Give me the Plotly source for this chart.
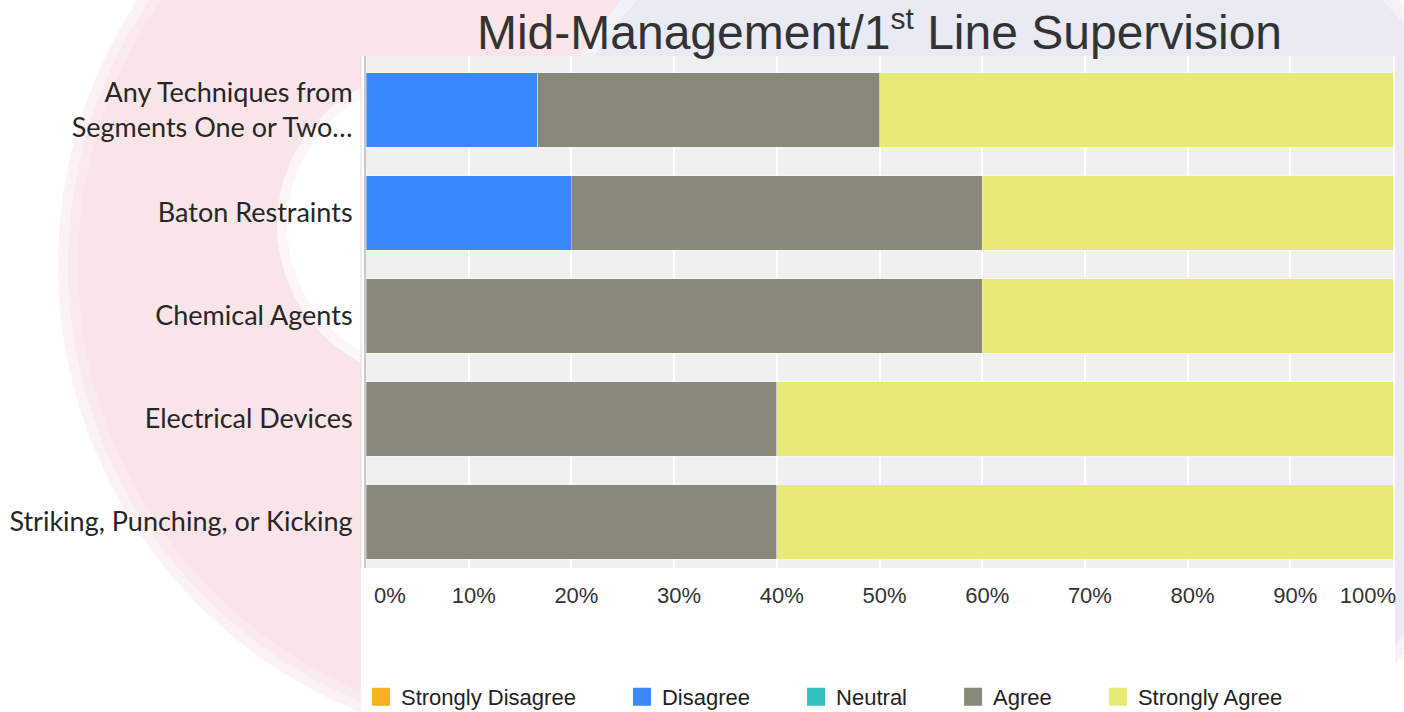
import plotly.graph_objects as go

# ---------------- data ----------------
categories = [
    "Any Techniques from<br>Segments One or Two…",
    "Baton Restraints",
    "Chemical Agents",
    "Electrical Devices",
    "Striking, Punching, or Kicking",
]
series_names = ["Strongly Disagree", "Disagree", "Neutral", "Agree", "Strongly Agree"]
strongly_disagree = [0, 0, 0, 0, 0]
disagree = [16.7, 20, 0, 0, 0]
neutral = [0, 0, 0, 0, 0]
agree = [33.3, 40, 60, 40, 40]
strongly_agree = [50, 40, 40, 60, 60]
tick_values = [0, 10, 20, 30, 40, 50, 60, 70, 80, 90, 100]
tick_labels = ["0%", "10%", "20%", "30%", "40%", "50%", "60%", "70%", "80%", "90%", "100%"]
title_main = "Mid-Management/1"
title_sup = "st"
title_rest = " Line Supervision"

series_values = [strongly_disagree, disagree, neutral, agree, strongly_agree]
series_colors = ["#F8B120", "#3A88FE", "#35BEBE", "#888978", "#E8EA76"]

# ---------------- layout geometry ----------------
W, H = 1404, 712
L, R, T, B = 366, 11, 56, 144
PW, PH = W - L - R, H - T - B


def px_x(p):
    return (p - L) / PW


def px_y(p):
    return (H - B - p) / PH


fig = go.Figure()

legend_axes = ["x2", "x3", "x", "x", "x"]
for name, vals, col, lx in zip(series_names, series_values, series_colors, legend_axes):
    fig.add_trace(go.Bar(
        y=categories, x=vals, orientation="h", name=name,
        marker=dict(color=col, line=dict(color="rgba(255,255,255,0.35)", width=1)),
        showlegend=False,
    ))
    # legend entry with a larger swatch (empty trace)
    fig.add_trace(go.Scatter(
        x=[None], y=[None], mode="markers", name=name + "\u00a0" * 6 + "\u2009",
        xaxis=lx, yaxis="y",
        marker=dict(symbol="square", size=16, color=col, line=dict(color=col, width=2)),
        showlegend=True,
    ))

# background decoration (slide background + chart panel)
shapes = []


def circle(cx, cy, r, color):
    return dict(type="circle", xref="paper", yref="paper", layer="below",
                x0=px_x(cx - r), x1=px_x(cx + r), y0=px_y(cy + r), y1=px_y(cy - r),
                fillcolor=color, line=dict(width=0))


shapes.append(circle(540, 265, 482, "#FCF2F3"))
shapes.append(circle(540, 265, 472, "#FAEAEC"))
shapes.append(circle(540, 265, 462, "#F9E5E7"))
shapes.append(circle(432, 225, 155, "#FDF6F7"))
shapes.append(circle(432, 225, 145, "#FFFFFF"))
shapes.append(circle(1010, 330, 510, "#F1F3F8"))
shapes.append(circle(1010, 330, 498, "#E8EBF3"))
shapes.append(dict(type="rect", xref="paper", yref="paper", layer="below",
                   x0=px_x(361), x1=px_x(1395), y0=px_y(712), y1=px_y(56),
                   fillcolor="#FFFFFF", line=dict(width=0)))
shapes.append(dict(type="line", xref="paper", yref="paper", layer="below",
                   x0=px_x(361), x1=px_x(361), y0=px_y(568), y1=px_y(56),
                   line=dict(color="#DDDDDD", width=1)))
shapes.append(dict(type="rect", xref="x domain", yref="y domain", layer="below",
                   x0=0, x1=1, y0=0, y1=1, fillcolor="#F0F0F0", line=dict(width=0)))

tick_font = dict(family="Liberation Sans, Arial", size=22, color="#333333")
common_x = dict(range=[0, 100], ticks="", zeroline=False, showline=False,
                ticklabelstandoff=12, tickfont=tick_font, automargin=False, fixedrange=True)

fig.update_layout(
    width=W, height=H,
    margin=dict(l=L, r=R, t=T, b=B, autoexpand=False),
    paper_bgcolor="#FFFFFF",
    plot_bgcolor="rgba(0,0,0,0)",
    barmode="stack",
    bargap=0.28,
    shapes=shapes,
    title=dict(text=title_main + "<sup><span style='font-size:30px'>" + title_sup + "</span></sup>" + title_rest,
               x=0.5, xref="paper", xanchor="center",
               y=1 - 32 / H, yref="container", yanchor="middle",
               font=dict(family="Liberation Sans, Arial", size=48, color="#333333")),
    xaxis=dict(tickvals=tick_values[1:-1], ticktext=tick_labels[1:-1],
               showgrid=True, gridcolor="#FFFFFF", gridwidth=2,
               ticklabelshift=5, **common_x),
    xaxis2=dict(overlaying="x", anchor="y", side="bottom",
                tickvals=tick_values[:1], ticktext=tick_labels[:1], showgrid=False,
                ticklabelposition="outside right", ticklabelshift=8, **common_x),
    xaxis3=dict(overlaying="x", anchor="y", side="bottom",
                tickvals=tick_values[-1:], ticktext=tick_labels[-1:], showgrid=False,
                ticklabelposition="outside left", ticklabelshift=3, **common_x),
    yaxis=dict(categoryorder="array", categoryarray=categories,
               range=[4.447, -0.524], showgrid=False, zeroline=False,
               showline=True, linecolor="#C8C8C8", linewidth=2, ticks="",
               ticklabelstandoff=6,
               tickfont=dict(family="Lato, Carlito, Calibri, sans-serif", size=27, color="#262626"),
               automargin=False, fixedrange=True),
    legend=dict(orientation="h", traceorder="normal",
                x=px_x(361), xanchor="left", y=px_y(697), yanchor="middle",
                font=dict(family="Liberation Sans, Arial", size=22, color="#222222"),
                bgcolor="rgba(0,0,0,0)", itemclick=False),
)

fig.write_html("out.html", config={"displayModeBar": False},
               post_script="document.body.style.margin='0';document.body.style.overflow='hidden';")
